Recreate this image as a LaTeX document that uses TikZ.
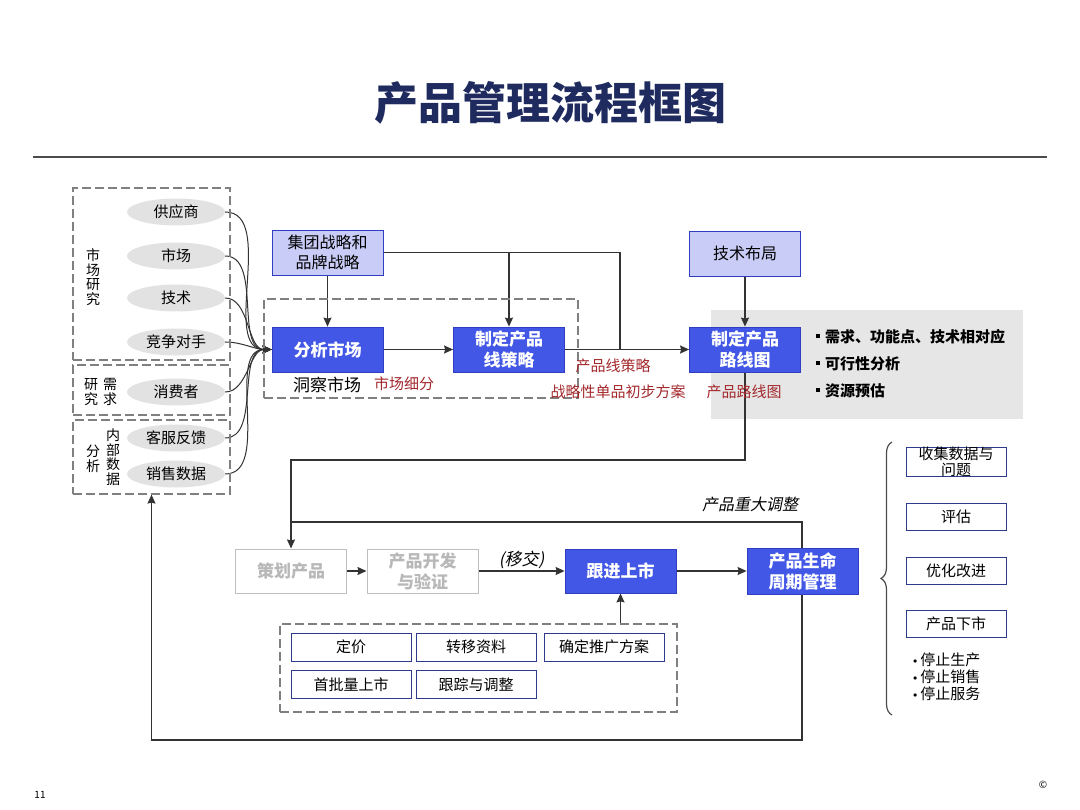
\documentclass[tikz,border=0pt]{standalone}
\usepackage{fontspec}
\setmainfont{Noto Sans CJK SC}[AutoFakeSlant=0.2]
\usetikzlibrary{arrows.meta,shapes.geometric,positioning,calc,decorations.pathreplacing,backgrounds}
\definecolor{deepblue}{HTML}{4257E6}
\definecolor{edgeblue}{HTML}{2F3FC0}
\definecolor{lavender}{HTML}{C8CCF6}
\definecolor{navyline}{HTML}{2E3A8C}
\definecolor{titlenavy}{HTML}{1F2B5E}
\definecolor{notered}{HTML}{A3282C}
\definecolor{ovalgray}{HTML}{E2E2E2}
\definecolor{panelgray}{HTML}{E6E6E6}
\definecolor{dashgray}{HTML}{808080}
\newcommand\sz[1]{\fontsize{#1}{#1}\selectfont}
\newcommand\szl[2]{\fontsize{#1}{#2}\selectfont}
\newcommand\sqb{\rule[0.3em]{4pt}{4pt}\hspace{5pt}}
\newcommand\dotb{\raisebox{2.5pt}{\fontsize{8}{8}\selectfont$\bullet$}\hspace{3pt}}

\begin{document}
\begin{tikzpicture}[x=1pt, y=-1pt,
    mainbox/.style={draw=edgeblue, fill=deepblue, text=white, font=\bfseries\szl{17}{21}, minimum width=111pt, minimum height=45pt, inner sep=0pt, align=center, line width=0.8pt},
    inbox/.style={draw=edgeblue, fill=lavender, font=\szl{16}{20}, minimum width=111pt, minimum height=45pt, inner sep=0pt, align=center, line width=0.8pt},
    fadebox/.style={draw=black!25, text=black!28, font=\bfseries\szl{17}{21}, minimum width=111pt, minimum height=44pt, inner sep=0pt, align=center, line width=1pt},
    task/.style={draw=navyline, fill=white, font=\sz{15}, minimum width=120pt, minimum height=28pt, inner sep=0pt, line width=1pt},
    side/.style={draw=navyline, font=\szl{15}{16}, minimum width=100pt, minimum height=27pt, inner sep=0pt, align=center, line width=1pt},
    src/.style={ellipse, fill=ovalgray, font=\sz{15}, minimum width=98pt, minimum height=27pt, inner sep=0pt},
    dashbox/.style={draw=dashgray, dash pattern=on 9pt off 4pt, line width=1.2pt, inner sep=0pt},
    vlbl/.style={font=\szl{14}{14.5}, align=center, inner sep=0pt},
    note/.style={text=notered, font=\sz{15}, inner sep=0pt},
    arr/.style={-{Stealth[length=9pt, width=8pt, inset=1pt]}, line width=1.3pt, draw=black!80},
    ln/.style={line width=1.3pt, draw=black!80}
]
\useasboundingbox (0,0) rectangle (1080,810);

\node[font=\bfseries\sz{44}, text=titlenavy] (title) at (550,103) {产品管理流程框图};
\coordinate (rulel) at (33,157);
\coordinate (ruler) at (1047,157);
\draw[line width=1.2pt, black!70] (rulel) -- (ruler);

% sources
\node[dashbox, minimum width=157pt, minimum height=172pt] (resbox) at (151.5,274) {};
\node[dashbox, minimum width=157pt, minimum height=50pt] (needbox) at (151.5,390) {};
\node[dashbox, minimum width=157pt, minimum height=74pt] (databox) at (151.5,457) {};
\node[src] (sup) at (176,212) {供应商};
\node[src] (market) at (176,256) {市场};
\node[src] (tech) at (176,298) {技术};
\node[src] (rival) at (176,342) {竞争对手};
\node[src] (cons) at (176,392) {消费者};
\node[src] (svc) at (176,438) {客服反馈};
\node[src] (sale) at (176,474) {销售数据};
\node[vlbl] (lblres) at (93,277) {市\\场\\研\\究};
\node[vlbl] (lblneedr) at (110,392) {需\\求};
\node[vlbl] (lblneedl) at (91,392) {研\\究};
\node[vlbl] (lbldatar) at (113,457) {内\\部\\数\\据};
\node[vlbl] (lbldatal) at (93,459) {分\\析};

% upper row
\node[dashbox, minimum width=314pt, minimum height=99pt] (insight) at (421,348.5) {};
\node[inbox] (grp) at (327.5,252.5) {集团战略和\\品牌战略};
\node[mainbox] (ana) at (327.5,349.5) {分析市场};
\node[mainbox] (pline) at (509,349.5) {制定产品\\线策略};
\node[inbox] (techmap) at (745,253.5) {技术布局};
\node[mainbox] (road) at (745,349.5) {制定产品\\路线图};
\node[inner sep=0pt, font=\sz{17}] (dongcha) at (327,385) {洞察市场};
\node[note] (seg) at (404,384) {市场细分};
\node[note] (plstr) at (613,366) {产品线策略};
\node[note] (single) at (618,392) {战略性单品初步方案};
\node[note] (roadtxt) at (744,392) {产品路线图};
\node[anchor=west, font=\bfseries\sz{15}, inner sep=0pt] (b1) at (816,337) {\sqb 需求、功能点、技术相对应};
\node[anchor=west, font=\bfseries\sz{15}, inner sep=0pt] (b2) at (816,364) {\sqb 可行性分析};
\node[anchor=west, font=\bfseries\sz{15}, inner sep=0pt] (b3) at (816,391) {\sqb 资源预估};

% lower row
\node[fadebox] (plan) at (291,571) {策划产品};
\node[fadebox] (dev) at (422.5,571) {产品开发\\与验证};
\node[mainbox, minimum height=44pt] (launch) at (620.5,571) {跟进上市};
\node[mainbox, minimum height=46pt] (life) at (802.5,571) {产品生命\\周期管理};
\node[font=\itshape\sz{16}, inner sep=0pt] (adjust) at (750,504) {产品重大调整};

\node[dashbox, minimum width=397pt, minimum height=88pt] (tasks) at (478.5,668) {};
\node[task] (price) at (351,647) {定价};
\node[task] (transfer) at (476,647) {转移资料};
\node[task] (promo) at (604,647) {确定推广方案};
\node[task] (first) at (351,684.5) {首批量上市};
\node[task] (track) at (476,684.5) {跟踪与调整};

% lifecycle items
\node[side] (collect) at (956,462) {收集数据与\\问题};
\node[side] (assess) at (956,517) {评估};
\node[side] (improve) at (956,570.5) {优化改进};
\node[side] (retire) at (956,623.5) {产品下市};
\node[anchor=north west, align=left, font=\szl{15}{17}, inner sep=0pt] (stops) at (913,653) {\dotb 停止生产\\\dotb 停止销售\\\dotb 停止服务};
\coordinate (braceb) at (892,715);
\coordinate (bracet) at (892,442);
\draw[decorate, decoration={brace, amplitude=11pt}, line width=1.2pt, black!70] (braceb) -- (bracet);

\node[font=\sz{10}] (pg) at (40,795) {11};
\node[font=\sz{10}] (copy) at (1043,785) {©};

\begin{scope}[on background layer]
\node[fill=panelgray, minimum width=312pt, minimum height=109pt, inner sep=0pt] (panel) at (867,364.5) {};
\foreach \s in {sup,market,tech,rival,cons,svc,sale}
  \draw[arr, line width=1pt] (\s.east) to[out=0, in=180, looseness=0.9] (ana.west);
\draw[arr] (grp) -- (ana);
\coordinate (jn) at (620,349.5);
\draw[arr] (grp.east) -| (jn) -- (road.west);
\draw[arr] (grp.east -| pline.north) -- (pline.north);
\draw[ln] (pline.east) -- (jn);
\draw[arr] (ana) -- (pline);
\draw[arr] (techmap) -- (road);
\coordinate (bend) at (745,460);
\draw[arr] (road.south) -- (bend) -| (plan.north);
\draw[arr] (plan) -- (dev);
\draw[arr] (dev) -- node[above, font=\itshape\sz{17}, inner sep=2pt] {(移交)} (launch);
\draw[arr] (launch) -- (life);
\draw[arr] (tasks.north -| launch.south) -- (launch.south);
\coordinate (fbstart) at (291,522);
\coordinate (fbcorner) at (802,740);
\draw[arr] (fbstart) -| (fbcorner) -| (databox.south);
\end{scope}
\end{tikzpicture}
\end{document}
